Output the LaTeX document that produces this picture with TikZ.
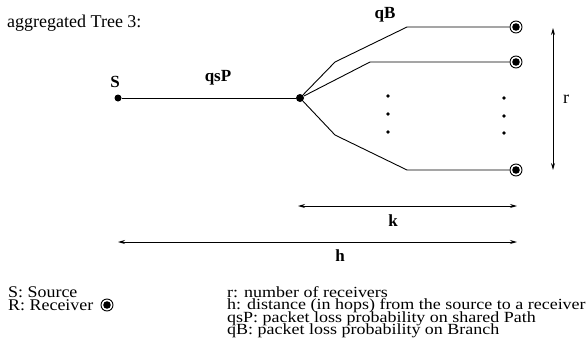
\documentclass[tikz,border=0pt]{standalone}
\usepackage{fontspec}
\setmainfont{Liberation Serif}
\usetikzlibrary{arrows.meta}
\begin{document}
\begin{tikzpicture}[x=1pt,y=-1pt,
  dotnode/.style={circle,fill=black,inner sep=0pt,minimum size=7pt},
  smalldot/.style={circle,fill=black,inner sep=0pt,minimum size=3.6pt},
  recv/.style={circle,draw=black,line width=0.9pt,fill=white,inner sep=0pt,minimum size=12pt,
    path picture={\fill[black] (path picture bounding box.center) circle (3.8pt);}},
  link/.style={line width=0.9pt},
  dimline/.style={line width=0.9pt,{Stealth[length=7pt,width=4pt]}-{Stealth[length=7pt,width=4pt]}},
  lbl/.style={font=\fontsize{17}{17}\selectfont\bfseries,inner sep=0pt},
  rlbl/.style={font=\fontsize{18}{18}\selectfont,inner sep=0pt},
  txt/.style={font=\fontsize{18}{18}\selectfont,inner sep=0pt,anchor=base west},
  ltxt/.style={inner sep=0pt,anchor=base west},
]
\useasboundingbox (0,0) rectangle (588,356);

\node[txt] (title) at (7,27) {aggregated Tree 3:};

% tree
\node[dotnode] (S) at (118,98) {};
\node[dotnode,minimum size=8pt] (J) at (300,98) {};
\node[recv] (R1) at (516,27) {};
\node[recv] (R2) at (516,62) {};
\node[recv] (R3) at (516,170) {};
\coordinate (b1) at (335,62);
\coordinate (t1) at (407,27);
\coordinate (t2) at (370,62);
\coordinate (b3) at (335,135);
\coordinate (t3) at (407,170);

\draw[link] (S) -- (J);
\draw[link] (J) -- (b1) -- (t1) -- (R1);
\draw[link] (J) -- (t2) -- (R2);
\draw[link] (J) -- (b3) -- (t3) -- (R3);

\node[smalldot] (d1) at (388,96) {};
\node[smalldot] (d2) at (388,114) {};
\node[smalldot] (d3) at (388,132) {};
\node[smalldot] (d4) at (504,98) {};
\node[smalldot] (d5) at (504,116) {};
\node[smalldot] (d6) at (504,133) {};

\node[lbl] (lS) at (115,82) {S};
\node[lbl] (lqsP) at (218,78) {qsP};
\node[lbl] (lqB) at (385,15) {qB};

% dimensions
\coordinate (rT) at (553,28);
\coordinate (rB) at (553,170);
\draw[dimline] (rT) -- (rB);
\node[rlbl] (lr) at (566,99) {r};

\coordinate (kL) at (298,206);
\coordinate (kR) at (517,206);
\draw[dimline] (kL) -- (kR);
\node[lbl] (lk) at (393,221) {k};

\coordinate (hL) at (118,242);
\coordinate (hR) at (517,242);
\draw[dimline] (hL) -- (hR);
\node[lbl] (lh) at (340,256) {h};

% legend
\newcommand{\lefttext}[1]{\scalebox{1.1}[1]{\fontsize{16.3}{16.3}\selectfont #1}}
\newcommand{\righttext}[1]{\scalebox{1.16}[1]{\fontsize{15.5}{15.5}\selectfont #1}}
\node[ltxt] (legS) at (8,297.5) {\lefttext{S: Source}};
\node[ltxt] (legR) at (8,310) {\lefttext{R: Receiver}};
\node[recv] (legsym) at (107,305) {};

\node[ltxt] (leg1) at (227,297.5) {\righttext{r: number of receivers}};
\node[ltxt] (leg2) at (227,309.9) {\righttext{h: distance (in hops) from the source to a receiver}};
\node[ltxt] (leg3) at (227,322.3) {\righttext{qsP: packet loss probability on shared Path}};
\node[ltxt] (leg4) at (227,334.7) {\righttext{qB: packet loss probability on Branch}};
\end{tikzpicture}
\end{document}
